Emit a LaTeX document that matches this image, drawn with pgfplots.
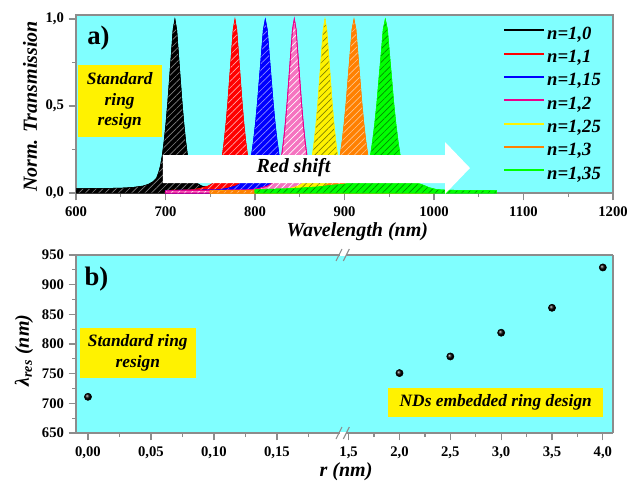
\documentclass[border=0pt]{standalone}
\usepackage{pgfplots}
\pgfplotsset{compat=1.18}
\usepackage{fontspec}
\setmainfont{Liberation Serif}
\usetikzlibrary{patterns.meta}

\definecolor{cyanbg}{RGB}{128,255,255}
\definecolor{myorange}{RGB}{255,128,0}
\definecolor{mygreen}{RGB}{0,255,0}
\definecolor{axgray}{RGB}{140,140,140}

\pgfplotsset{
  common/.style={
    scale only axis,
    axis background/.style={fill=cyanbg},
    axis line style={axgray, line width=0.9pt},
    every tick/.style={axgray, line width=0.9pt},
    tick align=outside,
    major tick length=5.5pt,
    minor tick length=3pt,
    tick label style={font=\bfseries\fontsize{11}{12}\selectfont, text=black},
    xticklabel style={yshift=-1pt},
    /pgf/number format/assume math mode=true,
    label style={font=\bfseries\itshape\fontsize{15}{18}\selectfont},
  },
  hatch/.style={postaction={pattern={Lines[angle=45,distance=3.5pt,line width=0.5pt]}, pattern color=#1}},
}

\begin{document}
\begin{tikzpicture}
\useasboundingbox (0,0) rectangle (481.5pt,362.25pt);

% ---------------- panel a ----------------
\begin{axis}[common, at={(57pt,217.5pt)}, anchor=south west,
  width=402.75pt, height=133.5pt,
  xmin=600, xmax=1200, ymin=0, ymax=1.023,
  xtick={600,700,...,1200}, ytick={0,0.5,1},
  minor x tick num=1, minor y tick num=1,
  xtick pos=bottom, ytick pos=left,
  yticklabel style={/pgf/number format/.cd, fixed, fixed zerofill, precision=1, use comma},
  xticklabel style={/pgf/number format/1000 sep={}},
  xlabel={Wavelength (nm)}, ylabel={Norm. Transmission},
  xlabel style={at={(rel axis cs:0.524,-0.219)}, anchor=center},
  ylabel style={at={(rel axis cs:-0.0857,0.486)}, anchor=center},
  legend style={at={(0.795,0.948)}, anchor=north west, draw=none, fill=none,
    inner sep=0pt, font=\bfseries\itshape\fontsize{14}{16}\selectfont, row sep=2pt,
    nodes={inner sep=1.5pt, text height=9.5pt, text depth=3pt}},
  legend cell align=left,
  legend image code/.code={\draw[#1] (0pt,3.5pt) -- (30pt,3.5pt);},
]
\addplot[draw=black, fill=black, line width=0.4pt, hatch=gray, forget plot] coordinates {
(600,0.025) (620,0.026) (640,0.027) (655,0.029) (665,0.033) (675,0.04) (681,0.05) (686,0.065) (690,0.085) (692.5,0.12) (694.5,0.16) (696.5,0.22) (698.5,0.30) (700.5,0.40) (702.5,0.52) (704.5,0.66) (706.5,0.80) (708.5,0.94) (710.5,1.0) (712.5,0.94) (714.5,0.80) (716.5,0.66) (718.5,0.52) (720.5,0.40) (722.5,0.30) (724.5,0.22) (726.5,0.16) (728.5,0.12) (731.5,0.08) (735.5,0.055) (740.5,0.04) (750.5,0.03) (765,0.025) (800,0.02)
} \closedcycle;
\addplot[draw=red, fill=red, line width=0.4pt, hatch=red!35!white, forget plot] coordinates {
(700,0.015) (727.6,0.018) (737.6,0.025) (747.6,0.04) (752.6,0.055) (756.6,0.08) (759.6,0.12) (761.6,0.16) (763.6,0.22) (765.6,0.30) (767.6,0.40) (769.6,0.52) (771.6,0.66) (773.6,0.80) (775.6,0.94) (777.6,1.0) (779.6,0.94) (781.6,0.80) (783.6,0.66) (785.6,0.52) (787.6,0.40) (789.6,0.30) (791.6,0.22) (793.6,0.16) (795.6,0.12) (798.6,0.08) (802.6,0.055) (807.6,0.04) (817.6,0.025) (827.6,0.018) (900,0.012)
} \closedcycle;
\addplot[draw=blue, fill=blue, line width=0.4pt, hatch=blue!45!white, forget plot] coordinates {
(700,0.015) (756.5,0.018) (767.5,0.025) (778.5,0.04) (784,0.055) (788.4,0.08) (791.7,0.12) (793.9,0.16) (796.1,0.22) (798.3,0.30) (800.5,0.40) (802.7,0.52) (804.9,0.66) (807.1,0.80) (809.3,0.94) (811.5,1.0) (813.7,0.94) (815.9,0.80) (818.1,0.66) (820.3,0.52) (822.5,0.40) (824.7,0.30) (826.9,0.22) (829.1,0.16) (831.3,0.12) (834.6,0.08) (839,0.055) (844.5,0.04) (855.5,0.025) (866.5,0.018) (930,0.012)
} \closedcycle;
\addplot[draw=magenta, fill=magenta!55!white, line width=0.6pt, hatch=white, forget plot] coordinates {
(700,0.012) (793.9,0.018) (803.9,0.025) (813.9,0.04) (818.9,0.055) (822.9,0.08) (825.9,0.12) (827.9,0.16) (829.9,0.22) (831.9,0.30) (833.9,0.40) (835.9,0.52) (837.9,0.66) (839.9,0.80) (841.9,0.94) (843.9,1.0) (845.9,0.94) (847.9,0.80) (849.9,0.66) (851.9,0.52) (853.9,0.40) (855.9,0.30) (857.9,0.22) (859.9,0.16) (861.9,0.12) (864.9,0.08) (868.9,0.055) (873.9,0.04) (883.9,0.025) (893.9,0.018) (960,0.012)
} \closedcycle;
\addplot[draw=yellow, fill=yellow, line width=0.4pt, hatch=yellow!50!black, forget plot] coordinates {
(750,0.012) (828.2,0.018) (838.2,0.025) (848.2,0.04) (853.2,0.055) (857.2,0.08) (860.2,0.12) (862.2,0.16) (864.2,0.22) (866.2,0.30) (868.2,0.40) (870.2,0.52) (872.2,0.66) (874.2,0.80) (876.2,0.94) (878.2,1.0) (880.2,0.94) (882.2,0.80) (884.2,0.66) (886.2,0.52) (888.2,0.40) (890.2,0.30) (892.2,0.22) (894.2,0.16) (896.2,0.12) (899.2,0.08) (903.2,0.055) (908.2,0.04) (918.2,0.025) (928.2,0.018) (990,0.012)
} \closedcycle;
\addplot[draw=myorange, fill=myorange, line width=0.4pt, hatch=myorange!45!white, forget plot] coordinates {
(750,0.012) (855.6,0.018) (866.6,0.025) (877.6,0.04) (883.1,0.055) (887.5,0.08) (890.8,0.12) (893,0.16) (895.2,0.22) (897.4,0.30) (899.6,0.40) (901.8,0.52) (904,0.66) (906.2,0.80) (908.4,0.94) (910.6,1.0) (912.8,0.94) (915,0.80) (917.2,0.66) (919.4,0.52) (921.6,0.40) (923.8,0.30) (926,0.22) (928.2,0.16) (930.4,0.12) (933.7,0.08) (938.1,0.055) (943.6,0.04) (954.6,0.025) (965.6,0.018) (1000,0.012)
} \closedcycle;
\addplot[draw=mygreen, fill=mygreen, line width=0.4pt, hatch=mygreen!55!black, forget plot] coordinates {
(800,0.02) (840,0.025) (870,0.035) (886.6,0.045) (898.4,0.05) (910.2,0.06) (916.1,0.075) (920.8,0.10) (924.4,0.13) (926.7,0.17) (929.1,0.22) (931.4,0.30) (933.8,0.40) (936.2,0.52) (938.5,0.66) (940.9,0.80) (943.2,0.94) (945.6,1.0) (948,0.94) (950.3,0.80) (952.7,0.66) (955,0.52) (957.4,0.40) (959.8,0.30) (962.1,0.22) (964.5,0.17) (966.8,0.13) (970.4,0.095) (975.1,0.07) (980,0.06) (988,0.045) (995,0.03) (1003,0.02) (1015,0.016) (1040,0.015) (1070,0.014)
} \closedcycle;

\addlegendimage{black, line width=1.5pt}\addlegendentry{n=1,0}
\addlegendimage{red, line width=1.5pt}\addlegendentry{n=1,1}
\addlegendimage{blue, line width=1.5pt}\addlegendentry{n=1,15}
\addlegendimage{magenta, line width=1.5pt}\addlegendentry{n=1,2}
\addlegendimage{yellow, line width=1.5pt}\addlegendentry{n=1,25}
\addlegendimage{myorange, line width=1.5pt}\addlegendentry{n=1,3}
\addlegendimage{mygreen, line width=1.5pt}\addlegendentry{n=1,35}

\fill[white] (axis cs:697.2,0.057) -- (axis cs:1012.3,0.057) -- (axis cs:1012.3,-0.006)
  -- (axis cs:1040.2,0.1435) -- (axis cs:1012.3,0.293) -- (axis cs:1012.3,0.218)
  -- (axis cs:697.2,0.218) -- cycle;
\node[font=\bfseries\itshape\fontsize{15}{18}\selectfont] at (axis cs:843,0.144) {Red shift};
\node[font=\bfseries\fontsize{20}{24}\selectfont] at (axis cs:625,0.891) {a)};
\node[fill=yellow, align=center, minimum width=63pt, minimum height=53.5pt, inner sep=0pt,
  font=\bfseries\itshape\fontsize{13}{15.5}\selectfont] at (axis cs:648.8,0.529) {Standard\\ring\\resign};
\end{axis}

% ---------------- panel b, left segment ----------------
\begin{axis}[common, at={(57pt,37.5pt)}, anchor=south west,
  width=198pt, height=133.5pt,
  xmin=-0.0095, xmax=0.2, ymin=650, ymax=950,
  axis x line*=box, axis y line*=left,
  xtick={0,0.05,0.1,0.15}, minor xtick={0.025,0.075,0.125,0.175},
  ytick={650,700,...,950}, minor y tick num=1,
  xtick pos=bottom, ytick pos=left,
  xticklabel style={/pgf/number format/.cd, fixed, fixed zerofill, precision=2, use comma},
  xlabel={r (nm)}, ylabel={λ\textsubscript{res} (nm)},
  xlabel style={at={(rel axis cs:1.023,-0.219)}, anchor=center},
  ylabel style={at={(rel axis cs:-0.197,0.463)}, anchor=center},
]
\addplot[only marks, mark=ball, mark size=2.7pt, mark options={ball color=black}] coordinates {(0,711)};
\node[font=\bfseries\fontsize{20}{24}\selectfont] at (axis cs:0.0067,909.5) {b)};
\node[fill=yellow, align=center, minimum width=86.8pt, minimum height=36.8pt, inner sep=0pt,
  font=\bfseries\itshape\fontsize{13}{15.5}\selectfont] at (axis cs:0.0395,784.8) {Standard ring\\resign};
\end{axis}

% ---------------- panel b, right segment ----------------
\begin{axis}[common, at={(255pt,37.5pt)}, anchor=south west,
  width=204.75pt, height=133.5pt,
  xmin=1.415, xmax=4.1, ymin=650, ymax=950,
  axis x line*=box, axis y line*=right, ytick=\empty,
  xtick={1.5,2,...,4}, minor xtick={1.75,2.25,...,3.75},
  xtick pos=bottom,
  xticklabel style={/pgf/number format/.cd, fixed, fixed zerofill, precision=1, use comma},
]
\addplot[only marks, mark=ball, mark size=2.7pt, mark options={ball color=black}] coordinates {(2,751) (2.5,779) (3,819) (3.5,861) (4,929)};
\node[fill=yellow, minimum width=161pt, minimum height=21.75pt, inner sep=0pt,
  font=\bfseries\itshape\fontsize{13}{15.5}\selectfont] at (axis cs:2.947,701.4) {NDs embedded ring design};
\end{axis}

% axis break marks
\foreach \yy in {37.5pt,171pt}{
  \draw[white, line width=1.4pt] (254.8pt,\yy) -- (259.2pt,\yy);
  \draw[axgray, line width=0.8pt] ([xshift=-5pt,yshift=-4.5pt]257pt,\yy) -- ([xshift=-0.5pt,yshift=4.5pt]257pt,\yy);
  \draw[axgray, line width=0.8pt] ([xshift=0.5pt,yshift=-4.5pt]257pt,\yy) -- ([xshift=5pt,yshift=4.5pt]257pt,\yy);
}
\end{tikzpicture}
\end{document}
